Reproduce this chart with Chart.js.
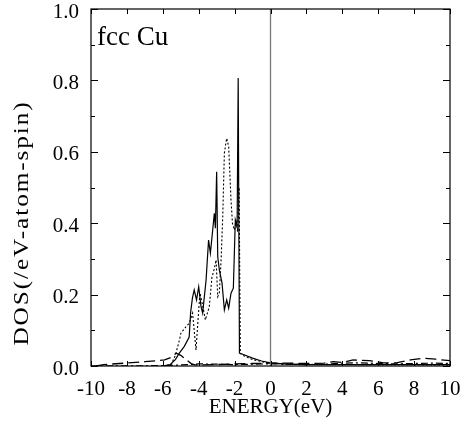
<!DOCTYPE html>
<html>
<head>
<meta charset="utf-8">
<script src="https://cdn.jsdelivr.net/npm/chart.js@4"></script>
<style>
  html, body { margin: 0; padding: 0; background: #fff; }
  #wrap { width: 465px; height: 427px; }
</style>
</head>
<body>
<div id="wrap"><canvas id="dos"></canvas></div>
<script>
// solid curve (d states)
const solidE = [-6.0, -5.6, -5.3, -5.08, -4.8, -4.53, -4.45, -4.35, -4.25, -4.12, -4.0, -3.87, -3.78, -3.59, -3.45, -3.35, -3.22, -3.13, -3.07, -3.0, -2.94, -2.85, -2.7, -2.57, -2.44, -2.33, -2.2, -2.07, -1.96, -1.86, -1.8, -1.73, -1.55, -1.0, -0.5, 0, 0.9, 2, 4, 6, 8, 10];
const solidDos = [0, 0.004, 0.018, 0.036, 0.055, 0.081, 0.15, 0.19, 0.213, 0.185, 0.222, 0.166, 0.148, 0.24, 0.353, 0.316, 0.381, 0.428, 0.386, 0.544, 0.306, 0.269, 0.232, 0.157, 0.185, 0.162, 0.204, 0.218, 0.409, 0.39, 0.807, 0.036, 0.033, 0.022, 0.014, 0.009, 0.005, 0.004, 0.004, 0.004, 0.004, 0.004];

// dotted curve
const dotE = [-6.0, -5.53, -5.3, -5.07, -4.99, -4.71, -4.53, -4.34, -4.15, -4.05, -3.93, -3.78, -3.63, -3.41, -3.26, -3.17, -3.03, -2.94, -2.85, -2.75, -2.66, -2.57, -2.5, -2.44, -2.33, -2.2, -2.12, -2.01, -1.92, -1.83, -1.75, -1.68, -1.55, -1.0, 0, 2, 5, 10];
const dotDos = [0, 0.004, 0.03, 0.073, 0.092, 0.11, 0.12, 0.148, 0.045, 0.12, 0.204, 0.17, 0.129, 0.166, 0.25, 0.264, 0.297, 0.194, 0.204, 0.3, 0.42, 0.596, 0.62, 0.638, 0.615, 0.465, 0.40, 0.381, 0.404, 0.376, 0.5, 0.035, 0.03, 0.018, 0.007, 0.004, 0.004, 0.003];

// long dash curve
const dashE = [-9.7, -9.3, -8.1, -7.0, -5.9, -5.5, -5.25, -5.0, -4.7, -4.4, -4.2, -3, -2, -1, 0, 1, 2, 3, 3.5, 4.0, 4.6, 5.5, 6.3, 7.0, 7.8, 8.5, 9.2, 10];
const dashDos = [0, 0.004, 0.008, 0.012, 0.017, 0.025, 0.036, 0.03, 0.018, 0.006, 0.003, 0.004, 0.006, 0.007, 0.008, 0.008, 0.007, 0.008, 0.012, 0.01, 0.017, 0.015, 0.009, 0.009, 0.017, 0.022, 0.019, 0.015];

// dash-dot curve
const dashDotE = [-10, -6, -5, -4.5, -4, -3, -2, -1, 0, 1, 2, 3, 4, 5, 6, 7, 8, 9, 10];
const dashDotDos = [0, 0.001, 0.003, 0.004, 0.006, 0.005, 0.004, 0.005, 0.006, 0.005, 0.004, 0.005, 0.008, 0.009, 0.007, 0.006, 0.007, 0.008, 0.007];

// Fermi level marker
const fermiE = [0, 0];
const fermiDos = [0, 1];

const xTicks = [-10, -8, -6, -4, -2, 0, 2, 4, 6, 8, 10];
const yTicks = [0.0, 0.2, 0.4, 0.6, 0.8, 1.0];
const yMinor = [0.1, 0.3, 0.5, 0.7, 0.9];

const serif = "'Liberation Serif', 'Times New Roman', serif";

function pts(xs, ys) {
  return xs.map((v, i) => ({ x: v, y: ys[i] }));
}

function line(data, dash, width, color) {
  return {
    data: data,
    borderColor: color || "#000",
    borderWidth: width,
    borderDash: dash,
    pointRadius: 0,
    tension: 0,
    fill: false,
  };
}

// frame and inward ticks on all four sides
const frameTicks = {
  id: "frameTicks",
  afterDatasetsDraw(chart) {
    const { ctx, chartArea: a, scales } = chart;
    const x = scales.x, y = scales.y;
    ctx.save();
    ctx.strokeStyle = "#000";
    ctx.lineWidth = 1.2;
    ctx.strokeRect(a.left, a.top, a.right - a.left, a.bottom - a.top);
    ctx.lineWidth = 1;
    ctx.beginPath();
    xTicks.forEach(v => {
      const px = Math.round(x.getPixelForValue(v)) + 0.5;
      ctx.moveTo(px, a.bottom); ctx.lineTo(px, a.bottom - 5);
      ctx.moveTo(px, a.top); ctx.lineTo(px, a.top + 5);
    });
    yTicks.forEach(v => {
      const py = Math.round(y.getPixelForValue(v)) + 0.5;
      ctx.moveTo(a.left, py); ctx.lineTo(a.left + 7, py);
      ctx.moveTo(a.right, py); ctx.lineTo(a.right - 7, py);
    });
    yMinor.forEach(v => {
      const py = Math.round(y.getPixelForValue(v)) + 0.5;
      ctx.moveTo(a.left, py); ctx.lineTo(a.left + 4, py);
      ctx.moveTo(a.right, py); ctx.lineTo(a.right - 4, py);
    });
    ctx.stroke();
    ctx.restore();
  },
};

// label inside the plot and the stretched y title
const labels = {
  id: "labels",
  afterDraw(chart) {
    const { ctx, chartArea: a } = chart;
    ctx.save();
    ctx.fillStyle = "#000";
    ctx.font = "27px " + serif;
    ctx.textBaseline = "alphabetic";
    ctx.textAlign = "left";
    ctx.fillText("fcc Cu", a.left + 6, 45);

    ctx.translate(22, 223);
    ctx.rotate(-Math.PI / 2);
    ctx.scale(1.2, 1);
    ctx.font = "21px " + serif;
    ctx.letterSpacing = "1.6px";
    ctx.textAlign = "center";
    ctx.textBaseline = "middle";
    ctx.fillText("DOS(/eV-atom-spin)", 0, 0);
    ctx.restore();
  },
};

new Chart(document.getElementById("dos"), {
  type: "line",
  data: {
    datasets: [
      line(pts(fermiE, fermiDos), [], 1.3, "#777"),
      line(pts(dashDotE, dashDotDos), [7, 3, 2, 3], 1.2),
      line(pts(dashE, dashDos), [11, 5], 1.3),
      line(pts(dotE, dotDos), [2, 2], 1.1),
      line(pts(solidE, solidDos), [], 1.2),
    ],
  },
  options: {
    responsive: true,
    maintainAspectRatio: false,
    animation: false,
    events: [],
    layout: { padding: { left: 0, top: 9, right: 15, bottom: 0 } },
    plugins: {
      legend: { display: false },
      tooltip: { enabled: false },
    },
    scales: {
      x: {
        type: "linear",
        min: -10,
        max: 10,
        grid: { display: false },
        border: { display: false },
        afterBuildTicks: s => { s.ticks = xTicks.map(v => ({ value: v })); },
        ticks: {
          color: "#000",
          padding: 3,
          maxRotation: 0,
          font: { family: serif, size: 21 },
          callback: v => String(v),
        },
        title: {
          display: true,
          text: "ENERGY(eV)",
          color: "#000",
          font: { family: serif, size: 21 },
          padding: { top: 0, bottom: 7 },
        },
        afterFit: s => { s.height = 61; s.paddingLeft = 0; s.paddingRight = 0; },
      },
      y: {
        min: 0,
        max: 1,
        grid: { display: false },
        border: { display: false },
        afterBuildTicks: s => { s.ticks = yTicks.map(v => ({ value: v })); },
        ticks: {
          color: "#000",
          padding: 4,
          labelOffset: 3,
          font: { family: serif, size: 21 },
          callback: v => v.toFixed(1),
        },
        afterFit: s => { s.width = 91; s.paddingTop = 0; s.paddingBottom = 0; },
      },
    },
  },
  plugins: [frameTicks, labels],
});
</script>
</body>
</html>
